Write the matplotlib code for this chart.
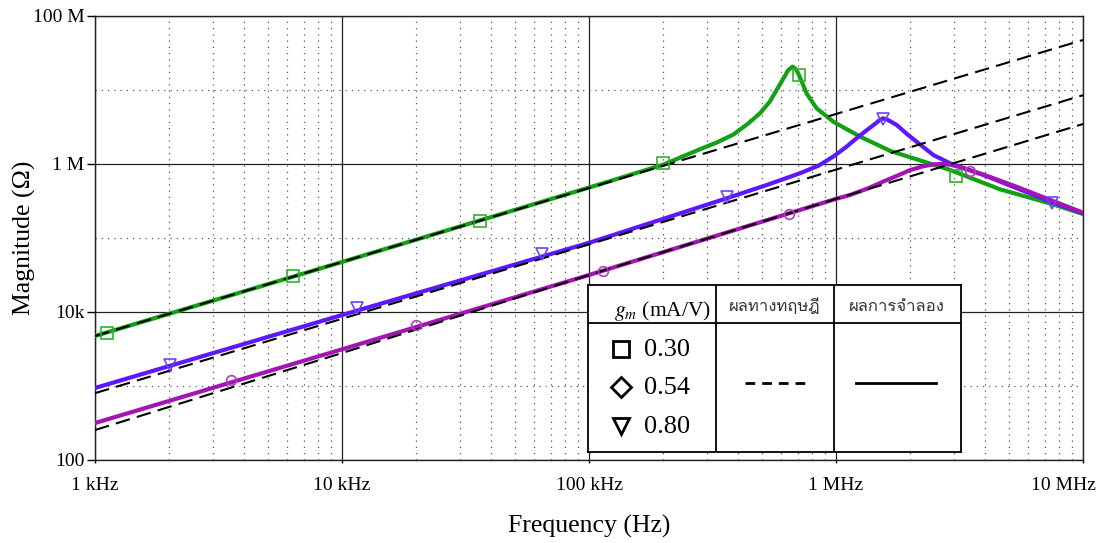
import matplotlib
matplotlib.use('Agg')
import matplotlib.pyplot as plt
import matplotlib.transforms as mtransforms
from matplotlib import font_manager, ft2font
from matplotlib.ticker import FixedLocator, NullFormatter

plt.rcParams['font.family'] = 'Liberation Serif'
plt.rcParams['mathtext.fontset'] = 'stix'

# pick any installed font that can draw Thai
thai_font = None
for fe in font_manager.fontManager.ttflist:
    try:
        if 0x0E1C in ft2font.FT2Font(fe.fname).get_charmap():
            thai_font = fe.name
            break
    except Exception:
        pass
thai_family = [thai_font, 'DejaVu Sans'] if thai_font else ['DejaVu Sans']

# theoretical impedance (dashed), read at each decade
freq_dec = [1e3, 1e4, 1e5, 1e6, 1e7]
theory_030 = [4.74e3, 4.74e4, 4.74e5, 4.74e6, 4.74e7]
theory_080 = [8.0e2, 8.1e3, 8.2e4, 8.4e5, 8.5e6]
theory_054 = [2.54e2, 2.79e3, 3.16e4, 3.38e5, 3.47e6]

# simulated impedance (solid)
sim_030_f = [1e3, 1e4, 1e5, 2e5, 2.81e5, 3.29e5, 3.84e5, 4.4e5, 4.92e5, 5.4e5, 5.75e5,
             6.1e5, 6.41e5, 6.67e5, 6.85e5, 7.03e5, 7.3e5, 7.6e5, 8.35e5, 9.75e5,
             1.25e6, 1.66e6, 2.9e6, 4.61e6, 7.35e6, 1e7]
sim_030_z = [4.74e3, 4.74e4, 4.8e5, 9.8e5, 1.58e6, 1.95e6, 2.5e6, 3.5e6, 4.84e6, 7.0e6, 1.0e7,
             1.4e7, 1.86e7, 2.07e7, 1.95e7, 1.68e7, 1.25e7, 9.0e6, 5.65e6, 3.73e6,
             2.35e6, 1.5e6, 8.3e5, 4.55e5, 2.94e5, 2.11e5]

sim_080_f = [1e3, 1e4, 1e5, 3.61e5, 5.24e5, 7.15e5, 8.5e5, 9.75e5, 1.1e6, 1.21e6, 1.32e6,
             1.42e6, 1.5e6, 1.55e6, 1.62e6, 1.76e6, 1.95e6, 2.12e6, 2.48e6, 2.9e6,
             3.95e6, 7.6e6, 1e7]
sim_080_z = [9.4e2, 9.1e3, 8.6e4, 3.44e5, 5.2e5, 7.5e5, 9.5e5, 1.26e6, 1.7e6, 2.22e6, 2.8e6,
             3.37e6, 3.9e6, 4.14e6, 3.95e6, 3.37e6, 2.5e6, 2.0e6, 1.32e6, 1.02e6,
             7.1e5, 3.0e5, 2.15e5]

sim_054_f = [1e3, 1e4, 1e5, 1e6, 1.14e6, 1.35e6, 1.55e6, 1.78e6, 2.0e6, 2.25e6, 2.48e6,
             2.7e6, 2.9e6, 3.2e6, 3.6e6, 4.3e6, 5.38e6, 1e7]
sim_054_z = [3.16e2, 3.13e3, 3.16e4, 3.38e5, 3.81e5, 4.7e5, 5.77e5, 7.0e5, 8.3e5, 9.3e5, 9.9e5,
             1.0e6, 9.8e5, 9.0e5, 8.0e5, 6.5e5, 4.93e5, 2.2e5]

# simulation sample points shown with markers
mk_030_f = [1.12e3, 6.35e3, 3.62e4, 1.99e5, 7.05e5, 3.06e6]
mk_030_z = [5.25e3, 3.07e4, 1.71e5, 1.04e6, 1.58e7, 6.8e5]
mk_080_f = [2.02e3, 1.15e4, 6.43e4, 3.61e5, 1.55e6, 7.5e6]
mk_080_z = [1.92e3, 1.12e4, 6.08e4, 3.61e5, 4.0e6, 2.94e5]
mk_054_f = [3.55e3, 2.0e4, 1.14e5, 6.43e5, 3.5e6]
mk_054_z = [1.2e3, 6.67e3, 3.6e4, 2.09e5, 8.0e5]

gm_labels = ['0.30', '0.54', '0.80']
xtick_vals = [1e3, 1e4, 1e5, 1e6, 1e7]
xtick_text = ['1 kHz', '10 kHz', '100 kHz', '1 MHz', '10 MHz']
ytick_vals = [1e2, 1e4, 1e6, 1e8]
ytick_text = ['100', '10k', '1 M', '100 M']

c_green, c_purple, c_magenta = '#14a014', '#5c18ff', '#a514b4'

W, H = 1101, 543
fig = plt.figure(figsize=(W / 100, H / 100), dpi=100)
ax = fig.add_axes([95 / W, 1 - 460 / H, 988 / W, 444 / H])
ax.set_xscale('log')
ax.set_yscale('log')
ax.set_xlim(1e3, 1e7)
ax.set_ylim(1e2, 1e8)

ax.plot(sim_030_f, sim_030_z, color=c_green, lw=3, zorder=3)
ax.plot(sim_080_f, sim_080_z, color=c_purple, lw=3, zorder=3.1)
ax.plot(sim_054_f, sim_054_z, color=c_magenta, lw=3, zorder=3.2)
for t in (theory_030, theory_080, theory_054):
    ax.plot(freq_dec, t, color='black', lw=1.5, dashes=(7, 3.5), zorder=4)

ax.plot(mk_030_f, mk_030_z, 's', ms=8, mfc='none', mec='#30b030', mew=1.2, zorder=5)
ax.plot(mk_080_f, mk_080_z, 'v', ms=8, mfc='none', mec='#7040ff', mew=1.2, zorder=5)
ax.plot(mk_054_f, mk_054_z, 'o', ms=7, mfc='none', mec='#b040c0', mew=1.2, zorder=5)

ax.xaxis.set_major_locator(FixedLocator(xtick_vals))
ax.set_xticklabels(xtick_text)
ax.xaxis.set_minor_locator(FixedLocator([m * d for d in (1e3, 1e4, 1e5, 1e6) for m in range(2, 10)]))
ax.xaxis.set_minor_formatter(NullFormatter())
ax.yaxis.set_major_locator(FixedLocator(ytick_vals))
ax.set_yticklabels(ytick_text)
ax.yaxis.set_minor_locator(FixedLocator([1e3, 1e5, 1e7]))
ax.yaxis.set_minor_formatter(NullFormatter())

ax.grid(which='major', color='#222222', lw=0.9, ls='-')
ax.grid(which='minor', color='#555555', lw=0.9, ls=(0, (1, 4)))
ax.tick_params(which='minor', length=0)
ax.tick_params(axis='y', which='major', length=6, width=1, pad=1.5, labelsize=14)
ax.tick_params(axis='x', which='major', length=2, width=1, pad=10, labelsize=14)
for s in ax.spines.values():
    s.set_linewidth(1)
    s.set_color('#222222')

# keep the last frequency label inside the figure
last = ax.get_xticklabels()[-1]
last.set_transform(last.get_transform() + mtransforms.ScaledTranslation(-0.2, 0, fig.dpi_scale_trans))

ax.set_xlabel('Frequency (Hz)', fontsize=18.5, labelpad=15)
ax.set_ylabel('Magnitude (Ω)', fontsize=18.5, labelpad=-2)

# legend table, drawn in pixel units
tab = fig.add_axes([588 / W, 1 - 452 / H, 373 / W, 167 / H])
tab.set_xlim(588, 961)
tab.set_ylim(452, 285)
tab.set_xticks([])
tab.set_yticks([])
for s in tab.spines.values():
    s.set_linewidth(1.3)
tab.plot([588, 961], [323, 323], color='black', lw=1.3)
tab.plot([716, 716], [285, 452], color='black', lw=1.3)
tab.plot([834, 834], [285, 452], color='black', lw=1.3)

tab.text(663, 311, '$g_m$ (mA/V)', fontsize=15.5, ha='center', va='center')
tab.text(775, 307, 'ผลทางทฤษฎี', family=thai_family, fontsize=12, ha='center', va='center', color='#333333')
tab.text(897, 307, 'ผลการจำลอง', family=thai_family, fontsize=12, ha='center', va='center', color='#333333')
for yy, mk, ms, lab in zip([349, 387, 426], ['s', 'D', 'v'], [12, 10, 12], gm_labels):
    tab.plot([621], [yy], mk, ms=ms, mfc='none', mec='black', mew=2)
    tab.text(644, yy + 1, lab, fontsize=19, ha='left', va='center')
tab.plot([745, 810], [383, 383], color='black', lw=2, dashes=(3.5, 2.5))
tab.plot([856, 936], [383, 383], color='black', lw=2)

fig.savefig('out.png', dpi=100)
